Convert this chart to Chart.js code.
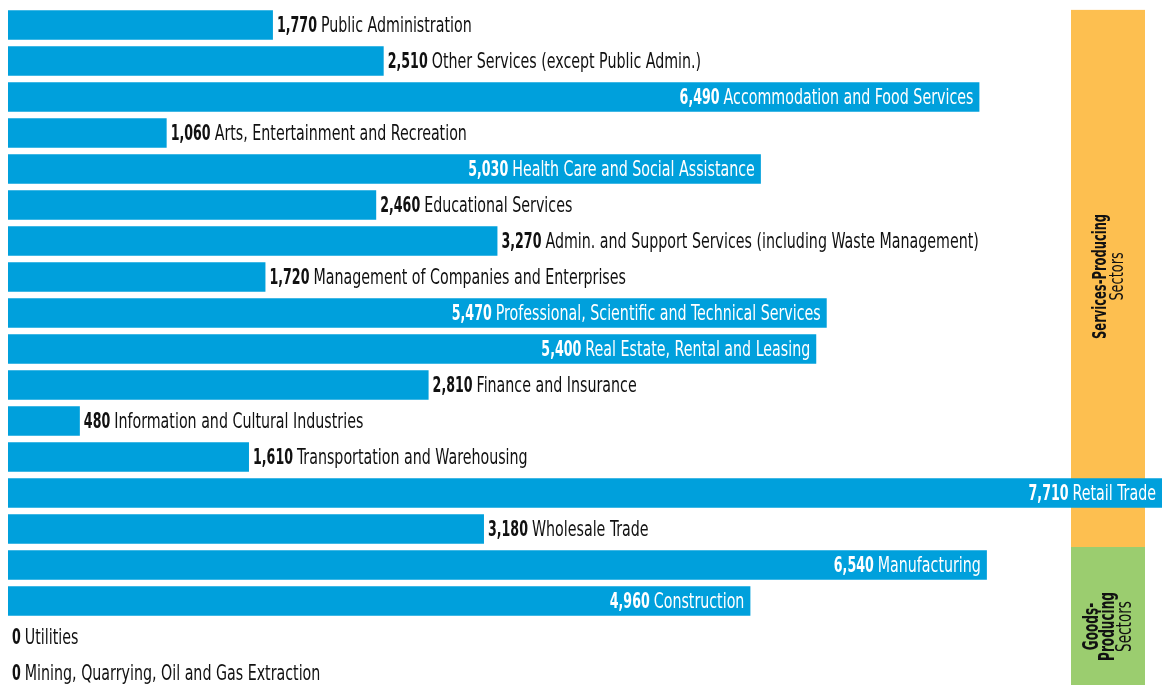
<!DOCTYPE html>
<html>
<head>
<meta charset="utf-8">
<script src="https://cdn.jsdelivr.net/npm/chart.js@4.4.1/dist/chart.umd.min.js"></script>
<style>
  html, body { margin: 0; padding: 0; background: #fff; overflow: hidden; }
  #wrap { width: 1164px; height: 685px; overflow: hidden; }
</style>
</head>
<body>
<div id="wrap"><canvas id="chart" width="1164" height="692"></canvas></div>
<script>
const industries = [
  'Public Administration',
  'Other Services (except Public Admin.)',
  'Accommodation and Food Services',
  'Arts, Entertainment and Recreation',
  'Health Care and Social Assistance',
  'Educational Services',
  'Admin. and Support Services (including Waste Management)',
  'Management of Companies and Enterprises',
  'Professional, Scientific and Technical Services',
  'Real Estate, Rental and Leasing',
  'Finance and Insurance',
  'Information and Cultural Industries',
  'Transportation and Warehousing',
  'Retail Trade',
  'Wholesale Trade',
  'Manufacturing',
  'Construction',
  'Utilities',
  'Mining, Quarrying, Oil and Gas Extraction'
];
const jobs = [1770, 2510, 6490, 1060, 5030, 2460, 3270, 1720, 5470, 5400, 2810, 480, 1610, 7710, 3180, 6540, 4960, 0, 0];

// sector bands on the right: first and last industry index in each
const sectorBold = [['Services-Producing'], ['Goods-', 'Producing']];
const sectorFirst = [0, 15];
const sectorLast = [14, 18];
const sectorColors = ['#fdbf50', '#9bcd6f'];

const FONT = '"Liberation Sans Narrow", "Arial Narrow", "DejaVu Sans Condensed", "Liberation Sans", sans-serif';
const BLUE = '#00a0dc';

let sxReg = 1, sxBold = 1;
function calibrate(ctx) {
  ctx.save();
  ctx.font = '22px ' + FONT;
  sxReg = 325 / ctx.measureText('Professional, Scientific and Technical Services').width;
  ctx.font = 'bold 22px ' + FONT;
  sxBold = 40 / ctx.measureText('5,470').width;
  ctx.restore();
}

function textW(ctx, txt, bold, size) {
  ctx.font = (bold ? 'bold ' : '') + size + 'px ' + FONT;
  return ctx.measureText(txt).width * (bold ? sxBold : sxReg);
}

function drawNarrow(ctx, txt, bold, size, x, y, align) {
  ctx.save();
  ctx.font = (bold ? 'bold ' : '') + size + 'px ' + FONT;
  ctx.textAlign = align || 'left';
  ctx.textBaseline = 'middle';
  ctx.translate(x, y);
  ctx.scale(bold ? sxBold : sxReg, 1);
  ctx.fillText(txt, 0, 0);
  ctx.restore();
}

const sectorPlugin = {
  id: 'sectors',
  beforeDatasetsDraw(chart) {
    const ctx = chart.ctx;
    const y = chart.scales.y;
    calibrate(ctx);
    const half = y.getPixelForValue(1) - y.getPixelForValue(0);
    const left = 1071, right = 1145;
    sectorFirst.forEach((first, i) => {
      const last = sectorLast[i];
      let top = first === 0 ? y.getPixelForValue(0) - half * 0.42 : y.getPixelForValue(first) - half / 2;
      let bottom = last === industries.length - 1 ? chart.height : y.getPixelForValue(last) + half / 2;
      ctx.fillStyle = sectorColors[i];
      ctx.fillRect(left, top, right - left, bottom - top);

      const size = i === 0 ? 20 : 21;
      const lines = sectorBold[i].map(t => ({ t, b: true })).concat([{ t: 'Sectors', b: false }]);
      const lh = i === 0 ? 17 : 16.5;
      const cx = (left + right) / 2 + 1;
      const cy = (top + bottom) / 2 + (i === 0 ? -2 : 7);
      ctx.save();
      ctx.fillStyle = '#111';
      ctx.translate(cx, cy);
      ctx.rotate(-Math.PI / 2);
      lines.forEach((ln, k) => {
        const off = (k - (lines.length - 1) / 2) * lh;
        drawNarrow(ctx, ln.t, ln.b, size, 0, off, 'center');
      });
      ctx.restore();
    });
  },
  afterDatasetsDraw(chart) {
    const ctx = chart.ctx;
    const meta = chart.getDatasetMeta(0);
    const size = 22;
    meta.data.forEach((bar, i) => {
      const num = jobs[i].toLocaleString('en-US');
      const name = industries[i];
      const wNum = textW(ctx, num, true, size);
      const wName = textW(ctx, name, false, size);
      const gap = 4;
      const yy = bar.y + 1;
      if (jobs[i] >= 4000) {
        ctx.fillStyle = '#fff';
        const end = bar.x - 6;
        drawNarrow(ctx, name, false, size, end - wName, yy);
        drawNarrow(ctx, num, true, size, end - wName - gap - wNum, yy);
      } else {
        ctx.fillStyle = '#111';
        const start = bar.x + 4;
        drawNarrow(ctx, num, true, size, start, yy);
        drawNarrow(ctx, name, false, size, start + wNum + gap, yy);
      }
    });
  }
};

new Chart(document.getElementById('chart'), {
  type: 'bar',
  data: {
    labels: industries,
    datasets: [{
      data: jobs,
      backgroundColor: BLUE,
      borderWidth: 0,
      barPercentage: 0.82,
      categoryPercentage: 1
    }]
  },
  options: {
    indexAxis: 'y',
    responsive: false,
    devicePixelRatio: 1,
    animation: false,
    layout: { padding: { left: 8, right: 2, top: 7, bottom: 1 } },
    scales: {
      x: { display: false, min: 0, max: Math.max(...jobs) },
      y: { display: false }
    },
    plugins: {
      legend: { display: false },
      tooltip: { enabled: false }
    }
  },
  plugins: [sectorPlugin]
});
</script>
</body>
</html>
